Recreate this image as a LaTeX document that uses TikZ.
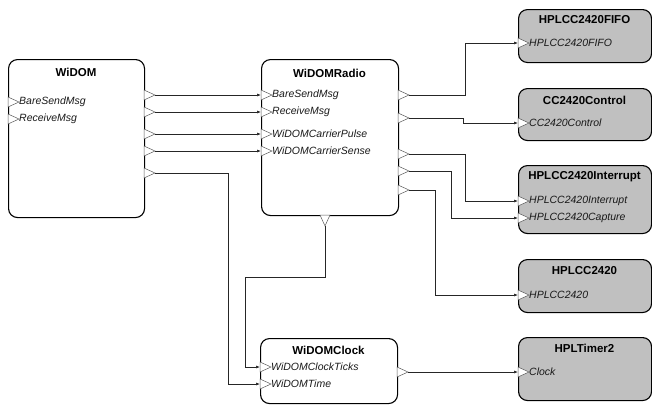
\documentclass[tikz,border=0pt]{standalone}
\usepackage{fontspec}
\setmainfont{Liberation Sans}
\usetikzlibrary{arrows.meta}
\definecolor{boxgray}{RGB}{192,192,192}
\definecolor{portline}{RGB}{90,90,90}
\newcommand\myin[4]{%
  \path[tri] (#2,#3-5) -- (#2+11,#3) -- (#2,#3+5) -- cycle;
  \coordinate (#1) at (#2,#3);
  \node[plbl] (#1L) at (#2+11,#3) {#4};}
\newcommand\myout[3]{%
  \path[tri] (#2,#3-5) -- (#2+11,#3) -- (#2,#3+5) -- cycle;
  \coordinate (#1) at (#2+11,#3);}
\begin{document}
\begin{tikzpicture}[x=1pt,y=-1pt,
  comp/.style={draw=black, line width=1.1pt, rounded corners=9pt, inner sep=0pt, anchor=north west},
  hw/.style={comp, fill=boxgray},
  ttl/.style={font=\fontsize{11.5}{12}\selectfont\bfseries, inner sep=0pt},
  plbl/.style={font=\fontsize{10.5}{11}\selectfont\itshape, inner sep=0pt, anchor=west, text=black!90},
  tri/.style={draw=portline, fill=white, line width=0.5pt, line join=miter},
  conn/.style={draw=black!85, line width=0.6pt, -{Latex[length=4pt,width=3pt]}},
]
\useasboundingbox (0,0) rectangle (652,405);
% components
\node[comp, minimum width=136pt, minimum height=158pt] (widom) at (8,59) {};
\node[comp, minimum width=137pt, minimum height=156pt] (radio) at (261,59) {};
\node[comp, minimum width=137pt, minimum height=65pt] (clock) at (260,338) {};
\node[hw, minimum width=133pt, minimum height=53pt] (fifo) at (518,9) {};
\node[hw, minimum width=133pt, minimum height=52pt] (ctrl) at (518,88) {};
\node[hw, minimum width=133pt, minimum height=68pt] (intr) at (518,165) {};
\node[hw, minimum width=133pt, minimum height=53pt] (hpl) at (518,259) {};
\node[hw, minimum width=133pt, minimum height=63pt] (tmr) at (518,337) {};
% titles
\node[ttl] (widomT) at (76,72) {WiDOM};
\node[ttl] (radioT) at (329.5,73) {WiDOMRadio};
\node[ttl] (clockT) at (328.5,350) {WiDOMClock};
\node[ttl] (fifoT) at (584.5,20) {HPLCC2420FIFO};
\node[ttl] (ctrlT) at (584.5,100) {CC2420Control};
\node[ttl] (intrT) at (584.5,177) {HPLCC2420Interrupt};
\node[ttl] (hplT) at (584.5,271) {HPLCC2420};
\node[ttl] (tmrT) at (584.5,348) {HPLTimer2};
% ports
\myin{wi1}{8}{102}{BareSendMsg}
\myin{wi2}{8}{119}{ReceiveMsg}
\myout{wo1}{144}{95}
\myout{wo2}{144}{112}
\myout{wo3}{144}{134}
\myout{wo4}{144}{151}
\myout{wo5}{144}{173}
\myin{ri1}{261}{95}{BareSendMsg}
\myin{ri2}{261}{112}{ReceiveMsg}
\myin{ri3}{261}{134}{WiDOMCarrierPulse}
\myin{ri4}{261}{151}{WiDOMCarrierSense}
\myout{ro1}{398}{95}
\myout{ro2}{398}{118}
\myout{ro3}{398}{154}
\myout{ro4}{398}{171}
\myout{ro5}{398}{190}
\path[tri] (320,215) -- (325,226) -- (330,215) -- cycle;
\coordinate (rb) at (325,226);
\myin{ci1}{260}{367}{WiDOMClockTicks}
\myin{ci2}{260}{384}{WiDOMTime}
\myout{co}{397}{372}
\myin{fi}{518}{43}{HPLCC2420FIFO}
\myin{cti}{518}{123}{CC2420Control}
\myin{ii1}{518}{201}{HPLCC2420Interrupt}
\myin{ii2}{518}{218}{HPLCC2420Capture}
\myin{hi}{518}{295}{HPLCC2420}
\myin{ti}{518}{372}{Clock}
% bend coordinates
\coordinate (k5) at (228,0);
\coordinate (k6) at (465,0);
\coordinate (k7) at (463,0);
\coordinate (k8) at (465,0);
\coordinate (k9) at (451,0);
\coordinate (k10) at (435,0);
\coordinate (k11) at (245,277);
% connectors
\draw[conn] (wo1) -- (ri1);
\draw[conn] (wo2) -- (ri2);
\draw[conn] (wo3) -- (ri3);
\draw[conn] (wo4) -- (ri4);
\draw[conn] (wo5) -- (wo5 -| k5) |- (ci2);
\draw[conn] (ro1) -- (ro1 -| k6) |- (fi);
\draw[conn] (ro2) -- (ro2 -| k7) |- (cti);
\draw[conn] (ro3) -- (ro3 -| k8) |- (ii1);
\draw[conn] (ro4) -- (ro4 -| k9) |- (ii2);
\draw[conn] (ro5) -- (ro5 -| k10) |- (hi);
\draw[conn] (rb) |- (k11) |- (ci1);
\draw[conn] (co) -- (ti);
\end{tikzpicture}
\end{document}
